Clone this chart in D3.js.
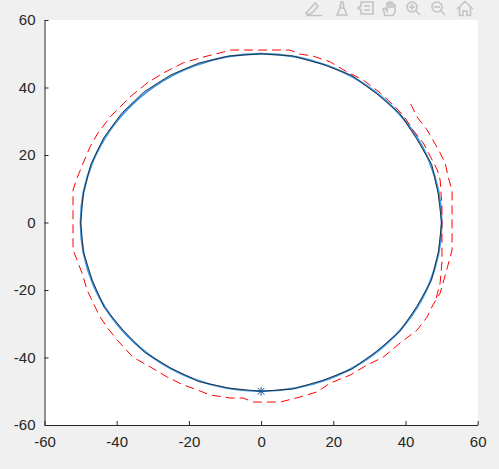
<!DOCTYPE html>
<html>
<head>
<meta charset="utf-8">
<script src="https://cdn.jsdelivr.net/npm/d3@7/dist/d3.min.js"></script>
<style>
  html, body { margin: 0; padding: 0; background: #f0f0f0; }
  svg { display: block; }
  .tick text { font-family: "Liberation Sans", Arial, sans-serif; font-size: 15px; fill: #262626; }
</style>
</head>
<body>
<div id="chart"></div>
<script>
// Axis limits and ticks
var xTicks = [-60, -40, -20, 0, 20, 40, 60];
var yTicks = [-60, -40, -20, 0, 20, 40, 60];

// Reference circle (blue) and start marker
var circleCenter = [0, 0];
var circleRadius = 50;
var startPoint = [0, -50];

// Jaggy black trace: angle (deg) and radius
var blackAngles = [0, 10, 20, 30, 40, 50, 60, 70, 80, 90, 100, 110, 120, 130, 140, 150, 160, 170,
                   180, 190, 200, 210, 220, 230, 240, 250, 260, 270, 280, 290, 300, 310, 320, 330, 340, 350];
var blackRadii = [50.0, 49.8, 50.3, 49.7, 50.2, 49.8, 50.3, 49.9, 50.1, 50.0, 50.1, 50.3, 50.4, 50.5, 50.4, 50.3, 50.2, 50.0,
                  50.0, 50.0, 49.8, 50.2, 49.8, 50.2, 49.9, 50.2, 49.9, 50.0, 50.1, 49.8, 50.2, 49.8, 50.2, 49.8, 50.2, 49.9];

// Red dashed trajectory, in path order
var redX = [48.5, 49.6, 50.1, 50.1, 49.6, 48.8, 47.4, 44.9, 42.1, 39.3, 36.6, 33.0, 28.3, 23.8, 19.1, 14.4, 10.8, 8.0,
            -8.6, -10.5, -16.1, -21.6, -27.1, -31.6, -36.3, -41.8, -45.2, -47.4, -49.3, -51.2, -52.1, -52.1,
            -51.0, -49.6, -48.2, -46.5, -44.6, -42.7, -39.9, -35.5, -30.7, -26.0, -21.6, -17.7, -14.1, -8.6, -5.0,
            -2.2, 5.3, 10.8, 15.5, 19.1, 24.7, 29.4, 33.8, 38.5, 43.2, 46.0, 47.6, 49.6, 50.4, 52.4, 52.9, 52.9,
            51.8, 51.0, 49.6, 47.6, 46.0, 43.2, 41.3];
var redY = [-22.4, -17.9, -11.7, 4.6, 12.6, 15.6, 18.5, 23.6, 27.4, 31.9, 34.8, 38.4, 42.2, 44.6, 47.6, 49.3, 49.9, 51.1,
            51.1, 50.5, 49.0, 47.3, 44.3, 41.3, 37.2, 31.3, 26.5, 22.4, 17.6, 12.6, 9.6, -8.1,
            -11.1, -15.0, -20.0, -23.9, -28.0, -31.0, -34.8, -39.9, -42.8, -45.8, -48.1, -49.6, -51.1, -52.0, -52.0,
            -53.2, -53.2, -51.7, -50.2, -47.6, -45.2, -42.2, -39.9, -35.7, -31.9, -28.0, -24.4, -20.9, -17.9, -10.2, -8.1, 9.6,
            13.5, 17.6, 20.6, 24.4, 27.4, 31.3, 35.4];

var width = 499, height = 469;
var plotLeft = 44.5, plotRight = 477.7, plotTop = 20, plotBottom = 425;

var svg = d3.select('#chart').append('svg')
            .attr('width', width)
            .attr('height', height);

svg.append('rect').attr('width', width).attr('height', height).attr('fill', '#f0f0f0');

// Plot area
svg.append('rect')
   .attr('x', plotLeft).attr('y', plotTop)
   .attr('width', plotRight - plotLeft).attr('height', plotBottom - plotTop)
   .attr('fill', '#ffffff');

var x = d3.scaleLinear().domain([-60, 60]).range([plotLeft, plotRight]);
var y = d3.scaleLinear().domain([-60, 60]).range([plotBottom, plotTop]);

// Blue circle
svg.append('ellipse')
   .attr('cx', x(circleCenter[0]))
   .attr('cy', y(circleCenter[1]))
   .attr('rx', x(circleRadius) - x(0))
   .attr('ry', y(0) - y(circleRadius))
   .attr('fill', 'none')
   .attr('stroke', '#3a97ea')
   .attr('stroke-width', 2);

// Black trace
var blackPts = blackAngles.map(function(a, i) {
  var t = a * Math.PI / 180;
  return [blackRadii[i] * Math.cos(t), blackRadii[i] * Math.sin(t)];
});
var line = d3.line().x(function(d) { return x(d[0]); }).y(function(d) { return y(d[1]); });

svg.append('path')
   .attr('d', line.curve(d3.curveLinearClosed)(blackPts))
   .attr('fill', 'none')
   .attr('stroke', '#262626')
   .attr('stroke-width', 0.9);

// Red dashed trajectory
var redPts = redX.map(function(v, i) { return [v, redY[i]]; });
svg.append('path')
   .attr('d', line.curve(d3.curveLinear)(redPts))
   .attr('fill', 'none')
   .attr('stroke', '#ff0000')
   .attr('stroke-width', 1)
   .attr('stroke-dasharray', '9,5');

// Asterisk marker
var ax = x(startPoint[0]), ay = y(startPoint[1]), s = 4.5;
var star = svg.append('g').attr('stroke', '#1a5a96').attr('stroke-width', 1);
star.append('line').attr('x1', ax - s).attr('x2', ax + s).attr('y1', ay).attr('y2', ay);
star.append('line').attr('x1', ax).attr('x2', ax).attr('y1', ay - s).attr('y2', ay + s);
star.append('line').attr('x1', ax - s * 0.75).attr('x2', ax + s * 0.75).attr('y1', ay - s * 0.75).attr('y2', ay + s * 0.75);
star.append('line').attr('x1', ax - s * 0.75).attr('x2', ax + s * 0.75).attr('y1', ay + s * 0.75).attr('y2', ay - s * 0.75);

// Axes (left and bottom only, ticks pointing in)
var fmt = function(d) { return d < 0 ? '-' + Math.abs(d) : d; };
var xAxis = d3.axisBottom(x).tickValues(xTicks).tickSizeInner(-4).tickSizeOuter(0).tickPadding(9).tickFormat(fmt);
var yAxis = d3.axisLeft(y).tickValues(yTicks).tickSizeInner(-4).tickSizeOuter(0).tickPadding(9).tickFormat(fmt);

var gx = svg.append('g').attr('transform', 'translate(0,' + plotBottom + ')').call(xAxis);
var gy = svg.append('g').attr('transform', 'translate(' + plotLeft + ',0)').call(yAxis);
[gx, gy].forEach(function(g) {
  g.select('.domain').attr('stroke', '#262626');
  g.selectAll('.tick line').attr('stroke', '#262626');
});
gx.selectAll('.tick text').attr('dy', '0.85em');

// Axes toolbar (light gray icons, top right)
var tb = svg.append('g').attr('fill', 'none').attr('stroke', '#c4c4c4').attr('stroke-width', 1.6);
// zoom in
tb.append('circle').attr('cx', 412).attr('cy', 7).attr('r', 5);
tb.append('line').attr('x1', 415.5).attr('y1', 10.5).attr('x2', 420).attr('y2', 15);
tb.append('line').attr('x1', 409).attr('y1', 7).attr('x2', 415).attr('y2', 7);
tb.append('line').attr('x1', 412).attr('y1', 4).attr('x2', 412).attr('y2', 10);
// zoom out
tb.append('circle').attr('cx', 437).attr('cy', 7).attr('r', 5);
tb.append('line').attr('x1', 440.5).attr('y1', 10.5).attr('x2', 445).attr('y2', 15);
tb.append('line').attr('x1', 434).attr('y1', 7).attr('x2', 440).attr('y2', 7);
// home
tb.append('path').attr('d', 'M457,9 L465,1.5 L473,9 M459.5,7 L459.5,15.5 L463,15.5 L463,11 L467,11 L467,15.5 L470.5,15.5 L470.5,7');
// hand
tb.append('path').attr('d', 'M385,15.5 L383,9 L385,8 L387,11 L387,3 L389,3 L389,8 L389,2 L391,2 L391,8 L391,3 L393,3 L393,8 L393,5 L395,5 L395,12 L393,15.5 Z');
// data tips
tb.append('path').attr('d', 'M361,2 L373,2 L373,14 L361,14 L361,10 L358,8 L361,6 Z');
tb.append('line').attr('x1', 364).attr('y1', 6).attr('x2', 370).attr('y2', 6);
tb.append('line').attr('x1', 364).attr('y1', 10).attr('x2', 370).attr('y2', 10);
// brush
tb.append('path').attr('d', 'M337,15 L340,8 L344,8 L347,15 Z M340,8 L341,2 L343,2 L344,8');
// edit
tb.append('path').attr('d', 'M306,13 L310,9 L315,3 L318,6 L313,12 L309,15 Z M306,15.5 L322,15.5');
</script>
</body>
</html>
